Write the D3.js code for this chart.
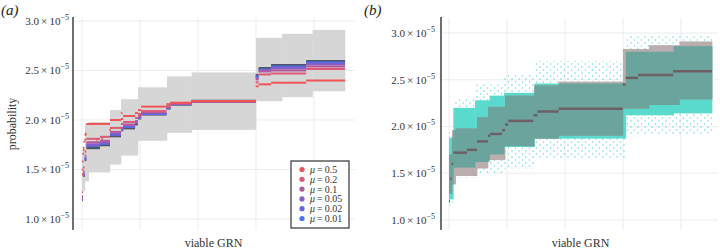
<!DOCTYPE html>
<html><head><meta charset="utf-8">
<script src="https://cdn.jsdelivr.net/npm/d3@7"></script>
<style>body{margin:0;background:#fff} svg{display:block}</style>
</head><body>
<svg id="c" width="720" height="250"></svg>
<script>
// ---- data (probability in units of 1e-5, x = rank of viable GRN) ----
const SEG = [[0,35],[35,90],[90,150],[150,620],[620,966],[966,1345],[1345,1420],[1420,1830],[1830,1930],
  [1930,2040],[2040,2910],[2910,3050],[3050,3780],[3780,5990],[5990,6090],[6090,6520],[6520,7730],[7730,9070]];
const MEDIAN = [1.20,1.44,1.60,1.72,1.75,1.84,1.90,1.92,1.96,2.02,2.06,2.12,2.16,2.19,2.45,2.52,2.55,2.59];
const MU_LABELS = ["0.5","0.2","0.1","0.05","0.02","0.01"];
const MU_05  = [1.45,1.70,1.85,1.96,1.96,2.00,2.01,2.04,2.07,2.10,2.135,2.16,2.175,2.19,2.34,2.36,2.375,2.40];
const MU_02  = [1.27,1.52,1.68,1.81,1.83,1.92,1.96,1.98,2.02,2.06,2.09,2.14,2.17,2.19,2.38,2.46,2.47,2.515];
const MU_01  = [1.23,1.48,1.64,1.775,1.79,1.88,1.92,1.955,1.99,2.04,2.08,2.13,2.165,2.19,2.41,2.49,2.50,2.54];
const MU_005 = [1.21,1.46,1.62,1.755,1.775,1.865,1.91,1.945,1.98,2.03,2.07,2.125,2.165,2.19,2.42,2.50,2.52,2.56];
const MU_002 = [1.20,1.45,1.61,1.745,1.765,1.855,1.905,1.935,1.975,2.025,2.065,2.12,2.16,2.19,2.43,2.505,2.53,2.57];
const MU_001 = [1.19,1.44,1.60,1.74,1.76,1.85,1.90,1.93,1.97,2.02,2.06,2.12,2.16,2.19,2.44,2.51,2.54,2.58];
const STRAY_05 = [[15,1.50],[25,1.58],[40,1.66],[55,1.72],[75,1.78],[110,1.80],[130,1.86],[520,1.80],[700,1.81],[966,1.90],[1010,1.92],[1368,2.07]];

const BAND_SEG = [[0,100],[100,230],[230,966],[966,1345],[1345,1930],[1930,2930],[2930,3780],[3780,6000],[6000,6900],[6900,7950],[7950,9070]];
const BAND_LO = [1.28,1.38,1.47,1.55,1.64,1.79,1.87,1.90,2.19,2.23,2.29];
const BAND_HI = [1.70,1.96,1.98,2.10,2.21,2.33,2.44,2.48,2.83,2.87,2.91];

const CYAN_SEG = [[0,150],[150,900],[900,1400],[1400,1900],[1900,2950],[2950,6100],[6100,7750],[7750,9070]];
const CYAN_LO = [1.22,1.56,1.62,1.70,1.78,1.87,2.12,2.14];
const CYAN_HI = [1.88,2.20,2.28,2.33,2.36,2.46,2.80,2.86];

const FRINGE_SEG = [[0,150],[150,900],[900,1900],[1900,2950],[2950,6100],[6100,9070]];
const FRINGE_LO = [1.15,1.45,1.50,1.55,1.65,1.92];
const FRINGE_HI = [1.95,2.30,2.45,2.55,2.70,2.98];

const X_TICKS = [0,2000,4000,6000,8000];
const Y_TICKS = [1.0,1.5,2.0,2.5,3.0];

// ---- style ----
const SERIF = "'Liberation Serif','DejaVu Serif',serif";
const MU_COLS = ["#f05454","#dc5a78","#b45a9c","#8c5ec4","#6a64dc","#4a70f2"];
const MU_DATA = [MU_05, MU_02, MU_01, MU_005, MU_002, MU_001];

const svg = d3.select("#c");
const defs = svg.append("defs");
// sparse speckle for the thin outer cloud of panel (b)
const pat = defs.append("pattern").attr("id","spk").attr("width",7).attr("height",6)
  .attr("patternUnits","userSpaceOnUse");
pat.append("circle").attr("cx",1).attr("cy",1).attr("r",0.75).attr("fill","#5ad9cd");
pat.append("circle").attr("cx",4.5).attr("cy",4).attr("r",0.7).attr("fill","#5ad9cd");

function panel(o) {
  const x = d3.scaleLinear().domain(o.xd).range([o.left, o.right]);
  const y = d3.scaleLinear().domain(o.yd).range([230, 18]);
  const g = svg.append("g");

  // grid
  X_TICKS.forEach(t => g.append("line").attr("x1", x(t)).attr("x2", x(t))
    .attr("y1", 18).attr("y2", 230).attr("stroke", "#ececec"));
  Y_TICKS.forEach(t => g.append("line").attr("x1", o.left).attr("x2", o.right)
    .attr("y1", y(t)).attr("y2", y(t)).attr("stroke", "#ececec"));

  o.draw(g, x, y);

  // axis + tick labels
  g.append("line").attr("x1", o.left).attr("x2", o.left).attr("y1", 17).attr("y2", 230)
    .attr("stroke", "#222").attr("stroke-width", 1.3);
  Y_TICKS.forEach(t => {
    const tx = g.append("text").attr("x", o.labX).attr("y", y(t) + 4).attr("text-anchor", "end")
      .attr("style", `font:11px ${SERIF};fill:#333`);
    tx.append("tspan").text(t.toFixed(1) + "\u2009×\u200910");
    tx.append("tspan").attr("dy", -5).attr("style", "font-size:8px").text("\u22125");
  });
  g.append("text").attr("x", (x(0) + x(9070)) / 2).attr("y", 247).attr("text-anchor", "middle")
    .attr("style", `font:12px ${SERIF};fill:#333`).text("viable GRN");
  g.append("text").attr("x", o.tagX).attr("y", 15)
    .attr("style", `font:italic 15px ${SERIF};fill:#222`).text(o.tag);
  return { g, x, y };
}

function bands(g, x, y, segs, lo, hi, fill) {
  segs.forEach((s, k) => g.append("rect").attr("x", x(s[0])).attr("width", x(s[1]) - x(s[0]) + 0.3)
    .attr("y", y(hi[k])).attr("height", y(lo[k]) - y(hi[k])).attr("fill", fill));
}
function steps(g, x, y, vals, col, w) {
  SEG.forEach((s, k) => g.append("line").attr("x1", x(s[0])).attr("x2", x(s[1]))
    .attr("y1", y(vals[k])).attr("y2", y(vals[k])).attr("stroke", col).attr("stroke-width", w));
}

// ---- panel (a) ----
const A = panel({ left: 73, right: 355, xd: [-310, 9414], yd: [0.889, 3.03], labX: 69, tagX: 1, tag: "(a)",
  draw: (g, x, y) => {
    bands(g, x, y, BAND_SEG, BAND_LO, BAND_HI, "#d6d6d6");
    steps(g, x, y, MEDIAN, "#4e5563", 3);
    for (let m = MU_DATA.length - 1; m >= 0; m--) steps(g, x, y, MU_DATA[m], MU_COLS[m], 2);
    STRAY_05.forEach(p => g.append("circle").attr("cx", x(p[0])).attr("cy", y(p[1])).attr("r", 1)
      .attr("fill", MU_COLS[0]));
  } });
A.g.append("text").attr("transform", "translate(16,124) rotate(-90)").attr("text-anchor", "middle")
  .attr("style", `font:12px ${SERIF};fill:#333`).text("probability");

// legend
const lg = A.g.append("g");
lg.append("rect").attr("x", 291).attr("y", 161).attr("width", 58).attr("height", 67)
  .attr("fill", "#fff").attr("stroke", "#333").attr("stroke-width", 1.2);
MU_LABELS.forEach((l, k) => {
  const yy = 169.5 + k * 9.8;
  lg.append("circle").attr("cx", 302).attr("cy", yy).attr("r", 2.6).attr("fill", MU_COLS[k]);
  const t = lg.append("text").attr("x", 310).attr("y", yy + 3.5).attr("style", `font:10px ${SERIF};fill:#333`);
  t.append("tspan").attr("font-style", "italic").text("μ");
  t.append("tspan").text("\u2009=\u2009" + l);
});

// ---- panel (b) ----
panel({ left: 441, right: 718, xd: [-276, 9276], yd: [0.892, 3.161], labX: 435, tagX: 364, tag: "(b)",
  draw: (g, x, y) => {
    bands(g, x, y, FRINGE_SEG, FRINGE_LO, FRINGE_HI, "url(#spk)");
    bands(g, x, y, CYAN_SEG, CYAN_LO, CYAN_HI, "#5ad9cd");
    bands(g, x, y, BAND_SEG, BAND_LO, BAND_HI, "#b9adae");
    // overlap of the two clouds
    CYAN_SEG.forEach((c, i) => BAND_SEG.forEach((b, j) => {
      const x0 = Math.max(c[0], b[0]), x1 = Math.min(c[1], b[1]);
      const lo = Math.max(CYAN_LO[i], BAND_LO[j]), hi = Math.min(CYAN_HI[i], BAND_HI[j]);
      if (x1 > x0 && hi > lo) g.append("rect").attr("x", x(x0)).attr("width", x(x1) - x(x0) + 0.3)
        .attr("y", y(hi)).attr("height", y(lo) - y(hi)).attr("fill", "#6aa49c");
    }));
    steps(g, x, y, MEDIAN, "#6e5f66", 2.5);
  } });
</script>
</body></html>
